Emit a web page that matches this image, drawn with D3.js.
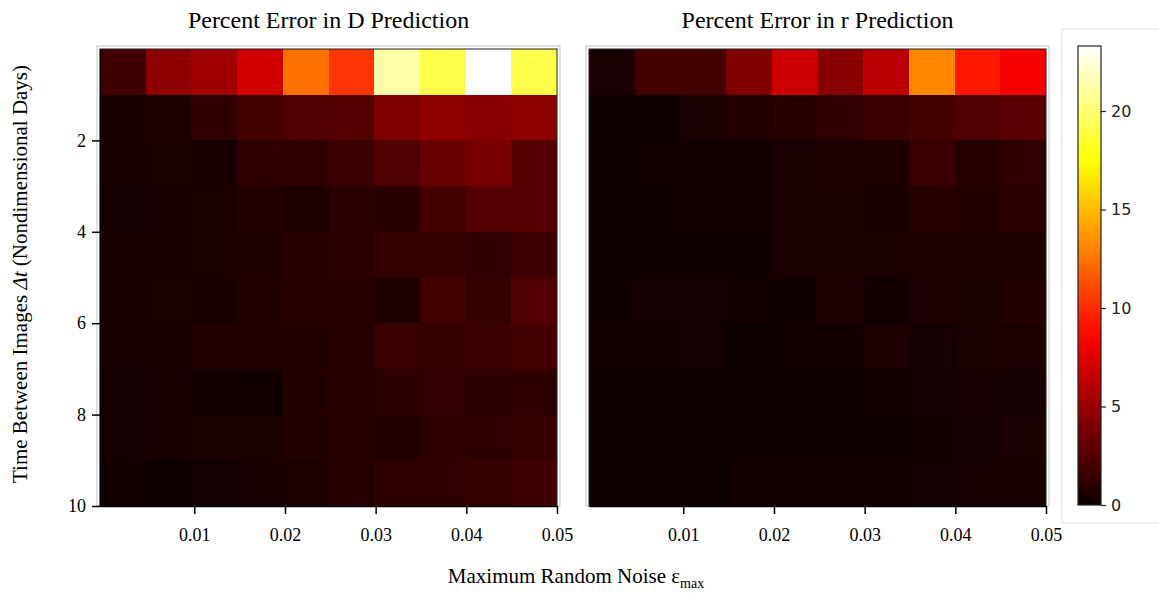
<!DOCTYPE html>
<html>
<head>
<meta charset="utf-8">
<script src="https://cdn.jsdelivr.net/npm/d3@7"></script>
<style>
  body { margin: 0; background: #fff; }
  .serif { font-family: "Liberation Serif", "Times New Roman", serif; }
  .cb text { font-family: "DejaVu Sans", sans-serif; }
</style>
</head>
<body>
<svg id="fig" width="1159" height="593"></svg>
<script>
// percent error in D, rows = dt 1..10 (top to bottom), cols = noise bins
const dError = [
  [1.8, 4.5, 5.2, 6.9, 12.4, 10.3, 21.3, 19.1, 23.3, 19.1],
  [0.47, 0.6, 1.3, 2.0, 2.4, 2.6, 4.0, 4.6, 4.4, 4.6],
  [0.38, 0.53, 0.47, 1.3, 1.3, 1.7, 2.4, 3.2, 3.8, 2.6],
  [0.33, 0.47, 0.53, 0.74, 0.6, 1.16, 1.02, 1.93, 2.6, 2.6],
  [0.47, 0.47, 0.53, 0.67, 1.02, 1.09, 1.44, 1.44, 1.3, 1.72],
  [0.47, 0.53, 0.47, 0.81, 0.95, 0.88, 0.67, 1.93, 1.48, 2.5],
  [0.47, 0.47, 0.74, 0.81, 0.81, 0.95, 1.58, 1.44, 1.65, 2.0],
  [0.33, 0.47, 0.26, 0.26, 0.81, 1.02, 1.16, 1.37, 1.16, 1.3],
  [0.33, 0.38, 0.53, 0.53, 0.81, 0.88, 0.81, 1.23, 1.23, 1.44],
  [0.26, 0.12, 0.33, 0.47, 0.6, 0.88, 1.3, 1.3, 1.44, 1.79]
];
// percent error in r
const rError = [
  [0.53, 2.0, 2.0, 4.1, 6.7, 4.4, 6.1, 13.2, 9.3, 8.3],
  [0.12, 0.12, 0.53, 0.81, 1.02, 1.3, 1.58, 1.93, 2.41, 2.76],
  [0.19, 0.26, 0.26, 0.26, 0.53, 0.67, 0.67, 1.58, 0.88, 1.23],
  [0.19, 0.19, 0.26, 0.26, 0.53, 0.53, 0.47, 0.95, 0.81, 1.09],
  [0.19, 0.19, 0.19, 0.19, 0.53, 0.53, 0.53, 0.6, 0.6, 0.6],
  [0.19, 0.33, 0.33, 0.26, 0.19, 0.67, 0.26, 0.6, 0.53, 0.81],
  [0.26, 0.26, 0.33, 0.05, 0.26, 0.26, 0.6, 0.33, 0.53, 0.6],
  [0.19, 0.19, 0.19, 0.19, 0.19, 0.19, 0.26, 0.33, 0.38, 0.33],
  [0.12, 0.12, 0.19, 0.19, 0.19, 0.19, 0.19, 0.26, 0.33, 0.53],
  [0.12, 0.19, 0.05, 0.26, 0.26, 0.26, 0.26, 0.33, 0.38, 0.38]
];
const noiseTicks = [0.01, 0.02, 0.03, 0.04, 0.05];
const dtTicks = [2, 4, 6, 8, 10];
const cbTicks = [0, 5, 10, 15, 20];
const titles = ['Percent Error in D Prediction', 'Percent Error in r Prediction'];
const vmax = 23.3;

// matplotlib "hot"
function hot(t) {
  t = Math.max(0, Math.min(1, t));
  let r = t < 0.365079 ? 0.0416 + (1 - 0.0416) * t / 0.365079 : 1;
  let g = t < 0.365079 ? 0 : Math.min(1, (t - 0.365079) / (0.746032 - 0.365079));
  let b = t < 0.746032 ? 0 : (t - 0.746032) / (1 - 0.746032);
  return d3.rgb(r * 255, g * 255, b * 255).toString();
}
const color = d3.scaleSequential(hot).domain([0, vmax]);

const svg = d3.select('#fig');
const size = 457, plotTop = 49;
const panelX = [100, 589];

const col = d3.scaleBand().domain(d3.range(10)).range([0, size]);
const row = d3.scaleBand().domain(d3.range(10)).range([0, size]);
const xScale = d3.scaleLinear().domain([-0.0004, 0.05]).range([0, size]);
const yScale = d3.scaleLinear().domain([0, 10]).range([0, size]);

[dError, rError].forEach((grid, p) => {
  const g = svg.append('g').attr('transform', 'translate(' + panelX[p] + ',' + plotTop + ')');

  // light frame
  g.append('rect')
    .attr('x', -3).attr('y', -3)
    .attr('width', size + 6).attr('height', size + 3)
    .attr('fill', 'none').attr('stroke', '#d0d0d0').attr('stroke-width', 1.2);

  const cells = [];
  grid.forEach((r, i) => r.forEach((v, j) => cells.push({i, j, v})));
  g.selectAll('rect.cell').data(cells).enter().append('rect')
    .attr('class', 'cell')
    .attr('x', d => Math.round(col(d.j)))
    .attr('y', d => Math.round(row(d.i)))
    .attr('width', d => Math.round(col(d.j) + col.bandwidth()) - Math.round(col(d.j)))
    .attr('height', d => Math.round(row(d.i) + row.bandwidth()) - Math.round(row(d.i)))
    .attr('shape-rendering', 'crispEdges')
    .attr('fill', d => color(d.v));

  g.append('rect')
    .attr('width', size).attr('height', size)
    .attr('fill', 'none').attr('stroke', '#222').attr('stroke-width', 1);

  const xAxis = g.append('g').attr('class', 'serif')
    .attr('transform', 'translate(0,' + size + ')')
    .call(d3.axisBottom(xScale).tickValues(noiseTicks).tickFormat(d3.format('.2f'))
      .tickSize(8).tickSizeOuter(0).tickPadding(14));
  xAxis.select('.domain').attr('stroke', '#000').attr('stroke-width', 1.5);
  xAxis.selectAll('line').attr('stroke-width', 1.5);
  xAxis.selectAll('text').attr('font-size', 18).attr('fill', '#000');

  if (p === 0) {
    const yAxis = g.append('g').attr('class', 'serif')
      .call(d3.axisLeft(yScale).tickValues(dtTicks).tickSize(8).tickSizeOuter(0).tickPadding(6));
    yAxis.select('.domain').attr('stroke', '#000').attr('stroke-width', 1.5);
    yAxis.selectAll('line').attr('stroke-width', 1.5);
    yAxis.selectAll('text').attr('font-size', 18).attr('fill', '#000');
  }

  g.append('text').attr('class', 'serif')
    .attr('x', size / 2).attr('y', -21)
    .attr('text-anchor', 'middle')
    .attr('font-size', 24)
    .text(titles[p]);
});

// axis labels
const yl = svg.append('text').attr('class', 'serif')
  .attr('transform', 'translate(27,274) rotate(-90)')
  .attr('text-anchor', 'middle').attr('font-size', 21);
yl.append('tspan').text('Time Between Images ');
yl.append('tspan').attr('font-style', 'italic').text('\u0394t');
yl.append('tspan').text(' (Nondimensional Days)');

const xl = svg.append('text').attr('class', 'serif')
  .attr('x', 576).attr('y', 583)
  .attr('text-anchor', 'middle').attr('font-size', 21);
xl.append('tspan').text('Maximum Random Noise \u03b5');
xl.append('tspan').attr('font-size', 14).attr('dy', 5).text('max');

// colorbar
const cb = svg.append('g').attr('class', 'cb');
cb.append('rect')
  .attr('x', 1062).attr('y', 29).attr('width', 110).attr('height', 494)
  .attr('fill', '#fff').attr('stroke', '#ddd');

const cbY = d3.scaleLinear().domain([0, vmax]).range([505, 46]);
const defs = svg.append('defs');
const grad = defs.append('linearGradient').attr('id', 'hotgrad')
  .attr('x1', 0).attr('y1', 1).attr('x2', 0).attr('y2', 0);
d3.range(0, 1.0001, 0.05).forEach(t => {
  grad.append('stop').attr('offset', t).attr('stop-color', hot(t));
});
cb.append('rect')
  .attr('x', 1078).attr('y', cbY(vmax))
  .attr('width', 23).attr('height', cbY(0) - cbY(vmax))
  .attr('fill', 'url(#hotgrad)').attr('stroke', '#222').attr('stroke-width', 1.2);

const cbAxis = cb.append('g')
  .attr('transform', 'translate(1101,0)')
  .call(d3.axisRight(cbY).tickValues(cbTicks).tickSize(5).tickPadding(5));
cbAxis.select('.domain').remove();
cbAxis.selectAll('line').attr('stroke', '#222').attr('stroke-width', 1.2);
cbAxis.selectAll('text').attr('font-size', 16).attr('fill', '#222');
</script>
</body>
</html>
